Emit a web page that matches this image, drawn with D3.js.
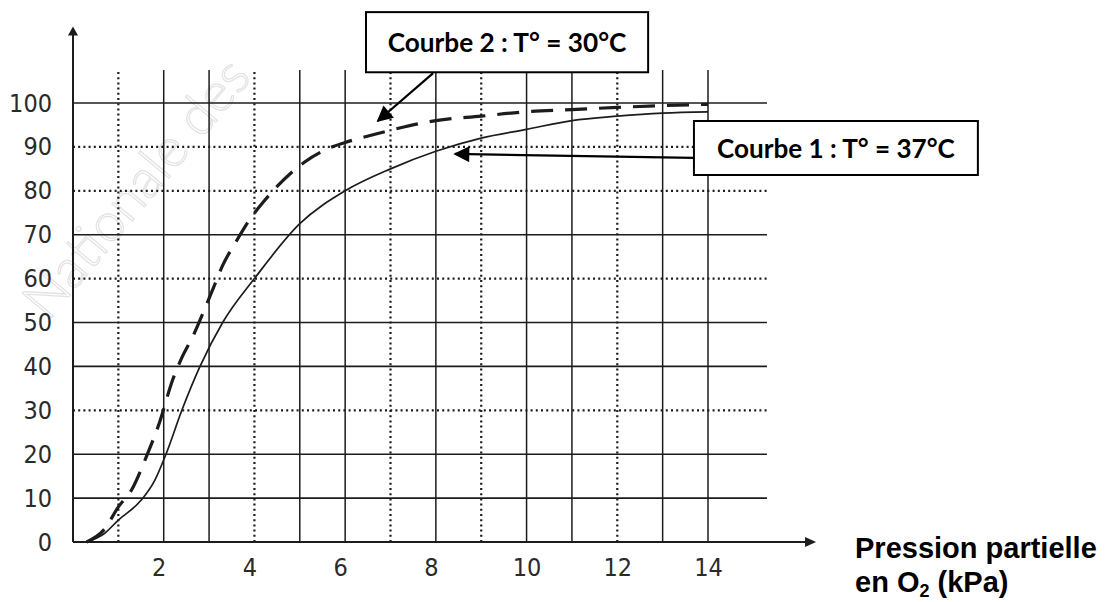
<!DOCTYPE html>
<html>
<head>
<meta charset="utf-8">
<script src="https://cdn.jsdelivr.net/npm/d3@7"></script>
<style>
  html, body { margin: 0; padding: 0; background: #ffffff; }
  svg { display: block; }
</style>
</head>
<body>
<svg id="chart" width="1107" height="602"></svg>
<script>
// ---------------- DATA ----------------
const xTickValues = [2, 4, 6, 8, 10, 12, 14];
const yTickValues = [0, 10, 20, 30, 40, 50, 60, 70, 80, 90, 100];
const gridXValues = [1, 2, 3, 4, 5, 6, 7, 8, 9, 10, 11, 12, 13, 14];
const gridXDotted = [1, 4, 7, 9, 12];
const gridYValues = [10, 20, 30, 40, 50, 60, 70, 80, 90, 100];
const gridYDotted = [30, 60, 80, 90];

// Courbe 1 : T° = 37°C (solid)
const curve1X = [0.3, 0.7, 1.0, 1.5, 1.8, 2.05, 2.4, 2.8, 3.3, 4.0, 5.0, 6.0, 7.0, 8.0, 9.0, 10, 11, 12, 13, 14];
const curve1Y = [0, 2, 5, 9.5, 14, 20, 30, 40, 50, 60, 72.5, 80, 85, 89, 92, 94, 96, 97, 97.7, 98];
// Courbe 2 : T° = 30°C (dashed)
const curve2X = [0.3, 0.7, 1.0, 1.3, 1.6, 1.9, 2.2, 2.4, 2.65, 2.9, 3.1, 3.3, 3.6, 3.9, 4.2, 4.5, 4.8, 5.1, 5.6, 6.0, 6.7, 7.2, 8, 9, 10, 11, 12, 13, 14];
const curve2Y = [0, 3, 8, 12, 19, 27, 37, 42, 47, 53, 58, 63, 68.5, 73.5, 77.5, 81, 84, 86.5, 89.5, 91, 93, 94.3, 96, 97, 98, 98.5, 99, 99.4, 99.7];

const label1 = "Courbe 1 : T° = 37°C";
const label2 = "Courbe 2 : T° = 30°C";
const axisTitleLine1 = "Pression partielle";
const watermarkText = "Nationale des";

// ---------------- LAYOUT ----------------
const svg = d3.select("#chart");
const x = d3.scaleLinear().domain([0, 14]).range([73, 708]);
const y = d3.scaleLinear().domain([0, 100]).range([542, 103]);
const ink = "#1c1c1c";

// watermark
svg.append("text")
  .attr("transform", "translate(48,322) rotate(-50)")
  .attr("font-family", "Lato, 'Open Sans', sans-serif")
  .attr("font-weight", 300)
  .attr("font-size", 54)
  .attr("fill", "none")
  .attr("stroke", "#e2e2e2")
  .attr("stroke-width", 1.2)
  .text(watermarkText);

// ---------------- GRID ----------------
const gridTop = 107.5, gridRight = 15.3;
svg.append("g").selectAll("line")
  .data(gridXValues).join("line")
  .attr("x1", d => x(d)).attr("x2", d => x(d))
  .attr("y1", y(0)).attr("y2", y(gridTop))
  .attr("stroke", ink)
  .attr("stroke-width", d => gridXDotted.includes(d) ? 2.2 : 1.5)
  .attr("stroke-dasharray", d => gridXDotted.includes(d) ? "2,3.2" : null);

svg.append("g").selectAll("line")
  .data(gridYValues).join("line")
  .attr("x1", x(0)).attr("x2", x(gridRight))
  .attr("y1", d => y(d)).attr("y2", d => y(d))
  .attr("stroke", ink)
  .attr("stroke-width", d => gridYDotted.includes(d) ? 2.2 : 1.6)
  .attr("stroke-dasharray", d => gridYDotted.includes(d) ? "2,3.2" : null);

// ---------------- AXES ----------------
const axisYTop = 116.5, axisXEnd = 16.25;
svg.append("line")
  .attr("x1", x(0)).attr("x2", x(0)).attr("y1", y(0)).attr("y2", y(axisYTop))
  .attr("stroke", ink).attr("stroke-width", 2);
svg.append("line")
  .attr("x1", x(0)).attr("x2", x(axisXEnd)).attr("y1", y(0)).attr("y2", y(0))
  .attr("stroke", ink).attr("stroke-width", 2);
const ay = y(axisYTop), ax = x(axisXEnd);
svg.append("path")
  .attr("d", `M${x(0)},${ay - 4} L${x(0) - 5},${ay + 5} L${x(0) + 5},${ay + 5} Z`)
  .attr("fill", ink);
svg.append("path")
  .attr("d", `M${ax + 6},${y(0)} L${ax - 5},${y(0) - 5} L${ax - 5},${y(0) + 5} Z`)
  .attr("fill", ink);

const tickFont = "'DejaVu Sans Condensed', 'Liberation Sans Narrow', sans-serif";
const gx = svg.append("g")
  .attr("transform", `translate(0,${y(0)})`)
  .call(d3.axisBottom(x).tickValues(xTickValues).tickSize(0).tickPadding(16).tickFormat(d3.format("d")));
gx.select(".domain").remove();
gx.selectAll("text")
  .attr("font-family", tickFont).attr("font-size", 25).attr("fill", "#2a2a2a")
  .attr("dx", d => d < 10 ? -5 : 0);

const gy = svg.append("g")
  .attr("transform", `translate(${x(0)},0)`)
  .call(d3.axisLeft(y).tickValues(yTickValues).tickSize(0).tickPadding(21).tickFormat(d3.format("d")));
gy.select(".domain").remove();
gy.selectAll("text")
  .attr("font-family", tickFont).attr("font-size", 25).attr("fill", "#2a2a2a");

// ---------------- CURVES ----------------
const c1 = curve1X.map((v, i) => [v, curve1Y[i]]);
const c2 = curve2X.map((v, i) => [v, curve2Y[i]]);
const line = d3.line().x(d => x(d[0])).y(d => y(d[1])).curve(d3.curveMonotoneX);

svg.append("path").datum(c1)
  .attr("d", line)
  .attr("fill", "none").attr("stroke", ink).attr("stroke-width", 1.7);

svg.append("path").datum(c2)
  .attr("d", line)
  .attr("fill", "none").attr("stroke", ink).attr("stroke-width", 3.2)
  .attr("stroke-dasharray", "22,12");

// ---------------- ANNOTATIONS ----------------
const defs = svg.append("defs");
defs.append("marker")
  .attr("id", "arrow").attr("viewBox", "0 0 10 10")
  .attr("refX", 9).attr("refY", 5)
  .attr("markerWidth", 22).attr("markerHeight", 16)
  .attr("markerUnits", "userSpaceOnUse")
  .attr("orient", "auto")
  .append("path").attr("d", "M0,0 L10,5 L0,10 Z").attr("fill", "#000");

const boxFont = "Lato, 'Open Sans', sans-serif";
const annotations = [
  { text: label2, box: [6.46, 120.7, 12.68, 107.0], textWidth: 239, from: [7.94, 106.8], to: [6.72, 95.9] },
  { text: label1, box: [13.69, 95.9, 19.95, 83.6], textWidth: 238, from: [13.69, 87.5], to: [8.42, 88.4] }
];

annotations.forEach(a => {
  svg.append("line")
    .attr("x1", x(a.from[0])).attr("y1", y(a.from[1]))
    .attr("x2", x(a.to[0])).attr("y2", y(a.to[1]))
    .attr("stroke", "#000").attr("stroke-width", 2.2)
    .attr("marker-end", "url(#arrow)");
  const bx0 = x(a.box[0]), by0 = y(a.box[1]), bx1 = x(a.box[2]), by1 = y(a.box[3]);
  svg.append("rect")
    .attr("x", bx0).attr("y", by0).attr("width", bx1 - bx0).attr("height", by1 - by0)
    .attr("fill", "#fff").attr("stroke", "#000").attr("stroke-width", 2);
  const t = svg.append("text")
    .attr("x", (bx0 + bx1) / 2).attr("y", (by0 + by1) / 2)
    .attr("text-anchor", "middle").attr("dominant-baseline", "central")
    .attr("font-family", boxFont).attr("font-weight", 700).attr("font-size", 24)
    .attr("fill", "#000").text(a.text);
  const w = t.node().getComputedTextLength();
  if (w > 0) t.attr("font-size", 24 * a.textWidth / w);
});

// axis title
const title = svg.append("text")
  .attr("font-family", "'Liberation Sans', Arial, sans-serif")
  .attr("font-weight", 700).attr("font-size", 29).attr("fill", "#000");
title.append("tspan").attr("x", 855).attr("y", 558).text(axisTitleLine1);
const l2 = title.append("tspan").attr("x", 855).attr("y", 592);
l2.append("tspan").text("en O");
l2.append("tspan").attr("font-size", 18).attr("dy", 5).text("2");
l2.append("tspan").attr("dy", -5).text(" (kPa)");
</script>
</body>
</html>
